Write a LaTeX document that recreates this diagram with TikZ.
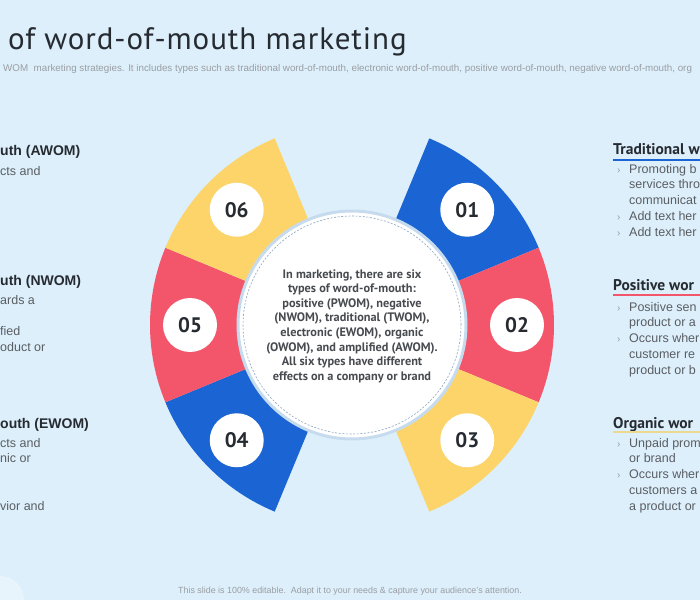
\documentclass[tikz,border=0pt]{standalone}
\usepackage{fontspec}
\setmainfont{Liberation Sans}
\newfontfamily\dinfont{PT Sans}
\newfontfamily\titlefont[LetterSpace=3]{PT Sans}
\usetikzlibrary{calc,positioning}
\definecolor{bgblue}{HTML}{DDEFFB}
\definecolor{wblue}{HTML}{1A64D4}
\definecolor{wred}{HTML}{F3566B}
\definecolor{wyellow}{HTML}{FCD46A}
\definecolor{lineyellow}{HTML}{EDD88F}
\definecolor{txtgray}{HTML}{5A5E63}
\definecolor{bulgray}{HTML}{9A9EA3}
\definecolor{darktxt}{HTML}{262B31}
\definecolor{rimblue}{HTML}{C6DCEE}
\definecolor{dashblue}{HTML}{8AA6C0}
\newcommand{\wbul}{\makebox[12pt][l]{\textcolor{bulgray}{\fontsize{10}{10}\selectfont ›}}}
\newcommand{\wind}{\hspace*{12pt}}
\tikzset{
  numc/.style={circle,fill=white,minimum size=54pt,inner sep=0pt,text=darktxt,font=\dinfont\bfseries\fontsize{21}{21}\selectfont},
  lhead/.style={anchor=base west,inner sep=0pt,text=darktxt,font=\bfseries\fontsize{14}{16}\selectfont},
  rhead/.style={anchor=base west,inner sep=0pt,text=darktxt,font=\dinfont\bfseries\fontsize{15.5}{16}\selectfont},
  bodytxt/.style={anchor=north west,inner sep=0pt,text=txtgray,align=left,font=\fontsize{12.5}{15.7}\selectfont},
  smalltxt/.style={inner sep=0pt,text=bulgray},
}
\begin{document}
\begin{tikzpicture}[x=1pt,y=1pt]
\useasboundingbox (0,0) rectangle (700,600);
\clip (0,0) rectangle (700,600);
\fill[bgblue] (0,0) rectangle (700,600);
\fill[white,opacity=.35] (0,0) circle (24);
\coordinate (C) at (352,275);
\node[anchor=base west,inner sep=0pt,text=darktxt,font=\titlefont\fontsize{31}{33}\selectfont] (title) at (8,550) {of word-of-mouth marketing};
\node[smalltxt,anchor=base west,font=\fontsize{9.8}{11}\selectfont] (subtitle) at (3,528) {WOM\ \ marketing strategies. It includes types such as traditional word-of-mouth, electronic word-of-mouth, positive word-of-mouth, negative word-of-mouth, org};
\node[smalltxt,anchor=base,font=\fontsize{8.9}{10}\selectfont] (footer) at (350,7) {This slide is 100\% editable.\ \ Adapt it to your needs \& capture your audience's attention.};
\fill[wblue] ($(C)+(22.5:100)$) arc[start angle=22.5,end angle=67.5,radius=100] -- ($(C)+(67.5:202)$) arc[start angle=67.5,end angle=22.5,radius=202] -- cycle;
\fill[wred] ($(C)+(-22.5:100)$) arc[start angle=-22.5,end angle=22.5,radius=100] -- ($(C)+(22.5:202)$) arc[start angle=22.5,end angle=-22.5,radius=202] -- cycle;
\fill[wyellow] ($(C)+(-67.5:100)$) arc[start angle=-67.5,end angle=-22.5,radius=100] -- ($(C)+(-22.5:202)$) arc[start angle=-22.5,end angle=-67.5,radius=202] -- cycle;
\fill[wblue] ($(C)+(202.5:100)$) arc[start angle=202.5,end angle=247.5,radius=100] -- ($(C)+(247.5:202)$) arc[start angle=247.5,end angle=202.5,radius=202] -- cycle;
\fill[wred] ($(C)+(157.5:100)$) arc[start angle=157.5,end angle=202.5,radius=100] -- ($(C)+(202.5:202)$) arc[start angle=202.5,end angle=157.5,radius=202] -- cycle;
\fill[wyellow] ($(C)+(112.5:100)$) arc[start angle=112.5,end angle=157.5,radius=100] -- ($(C)+(157.5:202)$) arc[start angle=157.5,end angle=112.5,radius=202] -- cycle;
\node[numc] (n1) at ($(C)+(45:163)$) {01};
\node[numc] (n2) at ($(C)+(0:165)$) {02};
\node[numc] (n3) at ($(C)+(-45:163)$) {03};
\node[numc] (n4) at ($(C)+(225:163)$) {04};
\node[numc] (n5) at ($(C)+(180:162)$) {05};
\node[numc] (n6) at ($(C)+(135:163)$) {06};
\node[circle,fill=white,draw=rimblue,line width=3pt,minimum size=228pt,inner sep=0pt] (core) at (C) {};
\draw[dashblue,line width=.6pt,dash pattern=on 2pt off 1.6pt] (C) circle (109);
\node[inner sep=0pt,align=center,text=darktxt!85,font=\dinfont\bfseries\fontsize{12.3}{14.6}\selectfont] (coretext) at ($(C)+(0,-1)$) {In marketing, there are six\\types of word-of-mouth:\\positive (PWOM), negative\\(NWOM), traditional (TWOM),\\electronic (EWOM), organic\\(OWOM), and amplified (AWOM).\\All six types have different\\effects on a company or brand};
\node[lhead] (awomhead) at (0,444) {uth (AWOM)};
\node[bodytxt] (awombody) at (0,434) {cts and};
\node[lhead] (nwomhead) at (0,314) {uth (NWOM)};
\node[bodytxt] (nwombody) at (0,305) {ards a\\ \mbox{}\\fied\\oduct or};
\node[lhead] (ewomhead) at (0,172) {outh (EWOM)};
\node[bodytxt] (ewombody) at (0,162) {cts and\\nic or\\ \mbox{}\\ \mbox{}\\vior and};
\node[rhead] (twomhead) at (613,445) {Traditional w};
\draw[wblue,line width=2pt] (613,440) -- (700,440);
\node[bodytxt] (twombody) at (617,436) {\wbul Promoting b\\\wind services thro\\\wind communicat\\\wbul Add text her\\\wbul Add text her};
\node[rhead] (pwomhead) at (613,309) {Positive wor};
\draw[wred,line width=2pt] (613,305) -- (700,305);
\node[bodytxt] (pwombody) at (617,298) {\wbul Positive sen\\\wind product or a\\\wbul Occurs wher\\\wind customer re\\\wind product or b};
\node[rhead] (owomhead) at (613,172) {Organic wor};
\draw[lineyellow,line width=2pt] (613,168) -- (700,168);
\node[bodytxt] (owombody) at (617,162) {\wbul Unpaid prom\\\wind or brand\\\wbul Occurs wher\\\wind customers a\\\wind a product or};
\end{tikzpicture}
\end{document}
